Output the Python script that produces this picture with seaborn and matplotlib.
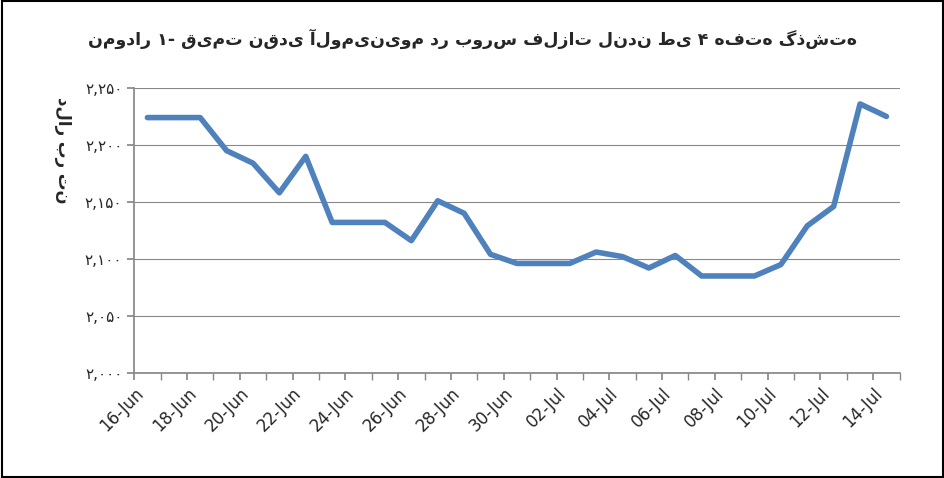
import matplotlib
matplotlib.use("Agg")
import matplotlib.pyplot as plt
import seaborn as sns
import pandas as pd
import numpy as np

dates = ["16-Jun","17-Jun","18-Jun","19-Jun","20-Jun","21-Jun","22-Jun","23-Jun","24-Jun","25-Jun",
         "26-Jun","27-Jun","28-Jun","29-Jun","30-Jun","01-Jul","02-Jul","03-Jul","04-Jul","05-Jul",
         "06-Jul","07-Jul","08-Jul","09-Jul","10-Jul","11-Jul","12-Jul","13-Jul","14-Jul"]
prices = [2224,2224,2224,2195,2184,2158,2190,2132,2132,2132,2116,2151,2140,2104,2096,2096,2096,
          2106,2102,2092,2103,2085,2085,2085,2095,2129,2146,2236,2225]
yticks = [2000,2050,2100,2150,2200,2250]
ytick_labels = ["۲,۰۰۰","۲,۰۵۰","۲,۱۰۰","۲,۱۵۰","۲,۲۰۰","۲,۲۵۰"]
title = "نمودار ۱- قیمت نقدی آلومینیوم در بورس فلزات لندن طی ۴ هفته گذشته"
ylabel = "دلار بر تن"

sns.set_theme(style="white")
plt.rcParams['font.family'] = ['DejaVu Sans']
df = pd.DataFrame({"i": np.arange(len(dates)), "price": prices})

fig = plt.figure(figsize=(9.45, 4.78), dpi=100)
ax = fig.add_axes([0.142, 0.22, 0.81, 0.596])
sns.lineplot(data=df, x="i", y="price", ax=ax, color="#4f81bd", linewidth=4)
ax.set_xlim(-0.5, len(dates) - 0.5)
ax.set_ylim(2000, 2250)
ax.set_yticks(yticks)
ax.set_yticklabels(ytick_labels, fontsize=11)
ax.yaxis.grid(True, color="#888888", linewidth=0.8)
ax.set_xticks([i - 0.5 for i in range(0, len(dates), 2)])
ax.set_xticklabels(dates[::2], rotation=45, ha="right", rotation_mode="anchor", fontsize=12)
ax.set_xticks([i - 0.5 for i in range(len(dates) + 1)], minor=True)
ax.tick_params(axis="x", which="both", direction="out", length=5, color="#888888", bottom=True)
ax.tick_params(axis="y", direction="out", length=5, color="#888888", left=True)
for s in ["top", "right"]:
    ax.spines[s].set_visible(False)
for s in ["left", "bottom"]:
    ax.spines[s].set_color("#888888")
ax.set_xlabel("")
ax.set_ylabel(ylabel, fontsize=12, fontweight="bold", rotation=270, labelpad=18)
ax.yaxis.set_label_coords(-0.105, 0.78)
fig.suptitle(title, x=0.5, y=0.94, fontsize=12.5, fontweight="bold")
fig.patches.append(plt.Rectangle((0.002, 0.002), 0.996, 0.996, transform=fig.transFigure,
                                 fill=False, edgecolor="black", linewidth=1.5))
fig.savefig("out.png", dpi=100)
